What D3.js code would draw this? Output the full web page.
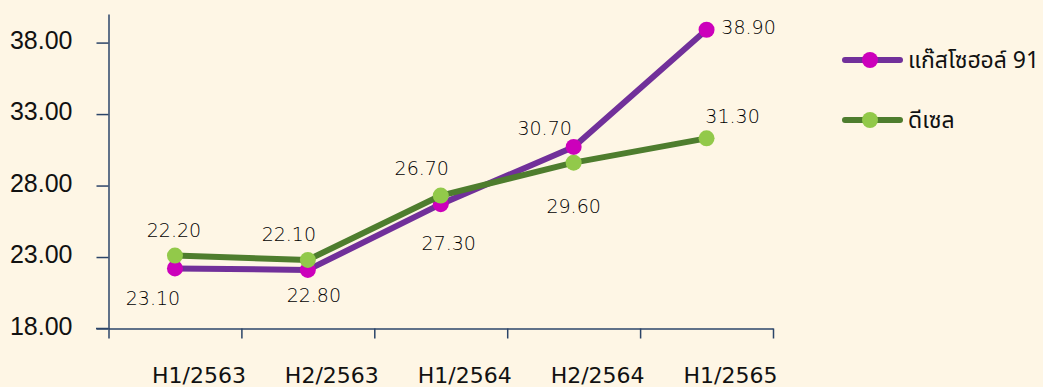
<!DOCTYPE html>
<html>
<head>
    <meta charset="utf-8">
    <title>fuel prices</title>
    <script src="https://cdn.jsdelivr.net/npm/d3@7"></script>
    <style>
        body { margin: 0; background: #fef6e5; }
        text { fill: #111; }
        .y.axis text { font-family: "Liberation Sans", sans-serif; font-size: 25px; fill: #111; }
        .xlab { font-family: "DejaVu Sans", sans-serif; font-size: 22px; text-anchor: middle; }
        .vlab { font-family: "DejaVu Sans", sans-serif; font-size: 19px; font-weight: 200; text-anchor: middle; fill: #000; }
        .leg { font-family: "Noto Sans Thai", "Loma", "Garuda", "Tahoma", sans-serif; font-size: 23px; }
        .axis path, .axis line { stroke: #2b4468; stroke-width: 1.5; }
    </style>
</head>
<body>
<script>
    var periods = ['H1/2563', 'H2/2563', 'H1/2564', 'H2/2564', 'H1/2565'];
    var gasohol91 = [22.2, 22.1, 26.7, 30.7, 38.9];
    var diesel = [23.1, 22.8, 27.3, 29.6, 31.3];
    var yTicks = [18, 23, 28, 33, 38];
    var seriesNames = ['แก๊สโซฮอล์ 91', 'ดีเซล'];

    // label nudges, picked by eye to match the original placement
    var gasLabelOffset = [[-1, -38], [-19, -36], [-19, -36], [-29, -19], [42, -3]];
    var dieselLabelOffset = [[-22, 43], [6, 35], [8, 48], [0, 43], [26, -22]];

    var width = 1043, height = 387;

    var svg = d3.select('body').append('svg')
        .attr('width', width)
        .attr('height', height);

    svg.append('rect')
        .attr('width', width)
        .attr('height', height)
        .style('fill', '#fef6e5');

    var x = d3.scalePoint()
        .domain(periods)
        .range([108.5, 773])
        .padding(0.5);

    var xEdge = d3.scaleLinear()
        .domain([0, periods.length])
        .range([108.5, 773]);

    var y = d3.scaleLinear()
        .domain([18, 40])
        .range([328.5, 14]);

    // y axis
    svg.append('g')
        .classed('y axis', true)
        .attr('transform', 'translate(108.5,0)')
        .call(d3.axisLeft(y).tickValues(yTicks).tickSize(12).tickSizeOuter(0).tickPadding(24)
            .tickFormat(d3.format('.2f')))
        .call(function(g) { g.selectAll('text').attr('dy', '0.22em'); });

    // x axis: ticks on the band edges, labels under the points
    svg.append('g')
        .classed('x axis', true)
        .attr('transform', 'translate(0,328.5)')
        .call(d3.axisBottom(xEdge).ticks(periods.length).tickSize(10).tickSizeOuter(0).tickFormat(''));

    svg.append('line')
        .attr('x1', 96).attr('x2', 108.5)
        .attr('y1', 328.5).attr('y2', 328.5)
        .style('stroke', '#2b4468').style('stroke-width', 1.5);

    svg.append('g').selectAll('text')
        .data(periods).enter()
        .append('text')
        .classed('xlab', true)
        .attr('x', function(d) { return x(d) + 24; })
        .attr('y', 383)
        .text(function(d) { return d; });

    var line = d3.line()
        .x(function(d, i) { return x(periods[i]); })
        .y(function(d) { return y(d); });

    var series = [
        { name: seriesNames[0], values: gasohol91, offs: gasLabelOffset, stroke: '#71309a', fill: '#cc00bb' },
        { name: seriesNames[1], values: diesel, offs: dieselLabelOffset, stroke: '#4e7d2e', fill: '#92c94a' }
    ];

    series.forEach(function(s) {
        var g = svg.append('g');
        g.append('path')
            .attr('d', line(s.values))
            .style('fill', 'none')
            .style('stroke', s.stroke)
            .style('stroke-width', 6)
            .style('stroke-linejoin', 'round');
        g.selectAll('circle')
            .data(s.values).enter()
            .append('circle')
            .attr('cx', function(d, i) { return x(periods[i]); })
            .attr('cy', function(d) { return y(d); })
            .attr('r', 8)
            .style('fill', s.fill);
        g.selectAll('text')
            .data(s.values).enter()
            .append('text')
            .classed('vlab', true)
            .attr('x', function(d, i) { return x(periods[i]) + s.offs[i][0]; })
            .attr('y', function(d, i) { return y(d) + s.offs[i][1]; })
            .attr('dy', '0.36em')
            .text(function(d) { return d3.format('.2f')(d); });
    });

    // legend
    var legend = svg.append('g')
        .selectAll('g')
        .data(series).enter()
        .append('g')
        .attr('transform', function(d, i) { return 'translate(845,' + (60 + i * 60) + ')'; });

    legend.append('line')
        .attr('x1', 0).attr('x2', 55)
        .style('stroke', function(d) { return d.stroke; })
        .style('stroke-width', 6)
        .style('stroke-linecap', 'round');

    legend.append('circle')
        .attr('cx', 25)
        .attr('r', 8)
        .style('fill', function(d) { return d.fill; });

    legend.append('text')
        .classed('leg', true)
        .attr('x', 63)
        .attr('dy', '0.36em')
        .text(function(d) { return d.name; });
</script>
</body>
</html>
